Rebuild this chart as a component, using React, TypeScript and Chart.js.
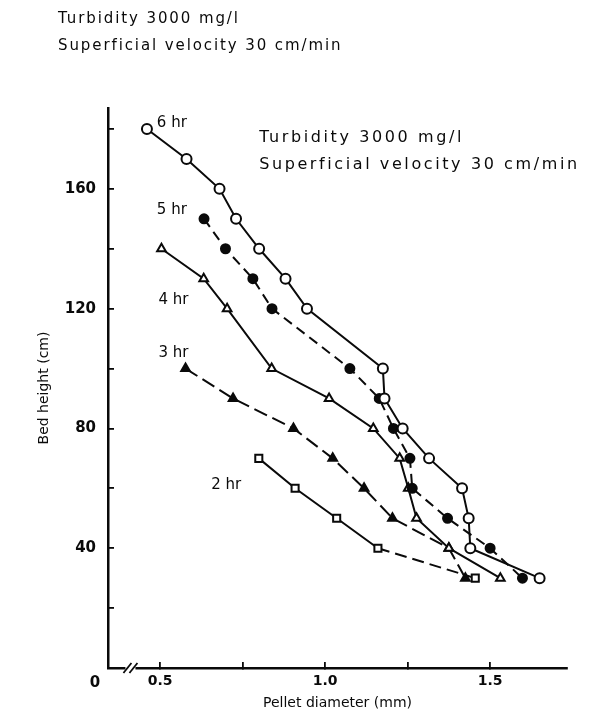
import React, { useEffect, useRef } from 'react';
import { Chart, registerables } from 'chart.js';

Chart.register(...registerables);

// ---- data (pellet diameter in mm, bed height in cm) ----
const seriesNames = ['6 hr', '5 hr', '4 hr', '3 hr', '2 hr'];

const diam6hr = [0.46, 0.58, 0.68, 0.73, 0.80, 0.88, 0.945, 1.175, 1.18, 1.235, 1.315, 1.415, 1.435, 1.44, 1.65];
const height6hr = [180, 170, 160, 150, 140, 130, 120, 100, 90, 80, 70, 60, 50, 40, 30];

const diam5hr = [0.633, 0.698, 0.781, 0.839, 1.075, 1.164, 1.207, 1.257, 1.264, 1.371, 1.5, 1.598];
const height5hr = [150, 140, 130, 120, 100, 90, 80, 70, 60, 50, 40, 30];

const diam4hr = [0.504, 0.632, 0.703, 0.838, 1.012, 1.146, 1.226, 1.252, 1.277, 1.375, 1.531];
const height4hr = [140, 130, 120, 100, 90, 80, 70, 60, 50, 40, 30];

const diam3hr = [0.577, 0.721, 0.904, 1.023, 1.118, 1.204, 1.375, 1.425];
const height3hr = [100, 90, 80, 70, 60, 50, 40, 30];

const diam2hr = [0.799, 0.909, 1.035, 1.16, 1.455];
const height2hr = [70, 60, 50, 40, 30];

const xTickValues = [0.5, 0.75, 1.0, 1.25, 1.5];
const yTickValues = [20, 40, 60, 80, 100, 120, 140, 160, 180];

// series label anchors (data coordinates)
const labelDiam = [0.49, 0.49, 0.495, 0.495, 0.655];
const labelHeight = [182, 153, 123, 105, 61];

const noteLines = ['Turbidity 3000 mg/l', 'Superficial velocity 30 cm/min'];
const noteDiam = 0.80;
const noteHeights = [177, 168];
const headerLines = ['Turbidity 3000 mg/l', 'Superficial velocity 30 cm/min'];

const X_MIN = 0.342;
const X_MAX = 1.733;
const Y_MIN = 0;
const Y_MAX = 187;
const BREAK_AT = 0.41;

const FONT = '"DejaVu Sans", "Liberation Sans", sans-serif';
const INK = '#0a0a0a';

const toPoints = (xs: number[], ys: number[]) => xs.map((v, i) => ({ x: v, y: ys[i] }));

const annotationPlugin = {
  id: 'annotations',
  afterDraw(chart: any) {
    const { ctx, chartArea } = chart;
    const x = chart.scales.x;
    const y = chart.scales.y;
    ctx.save();
    ctx.fillStyle = INK;
    ctx.textBaseline = 'middle';
    ctx.textAlign = 'left';
    ctx.font = `15px ${FONT}`;
    seriesNames.forEach((n, i) => {
      ctx.fillText(n, x.getPixelForValue(labelDiam[i]), y.getPixelForValue(labelHeight[i]));
    });
    ctx.font = `16px ${FONT}`;
    (ctx as any).letterSpacing = '2.6px';
    noteLines.forEach((t, i) => {
      ctx.fillText(t, x.getPixelForValue(noteDiam), y.getPixelForValue(noteHeights[i]));
    });
    (ctx as any).letterSpacing = '0px';
    ctx.font = `bold 15px ${FONT}`;
    ctx.textAlign = 'center';
    ctx.fillText('0', chartArea.left - 13, chartArea.bottom + 15);
    // axis break
    const bx = x.getPixelForValue(BREAK_AT);
    ctx.fillStyle = '#fff';
    ctx.fillRect(bx - 5, chartArea.bottom - 3, 10, 6);
    ctx.strokeStyle = INK;
    ctx.lineWidth = 1.8;
    [-3, 3].forEach((o) => {
      ctx.beginPath();
      ctx.moveTo(bx + o - 4, chartArea.bottom + 5);
      ctx.lineTo(bx + o + 4, chartArea.bottom - 5);
      ctx.stroke();
    });
    ctx.restore();
  },
};

export default function App() {
  const canvasRef = useRef<HTMLCanvasElement | null>(null);

  useEffect(() => {
    const canvas = canvasRef.current;
    if (!canvas) return;

    const common = {
      borderColor: INK,
      pointBorderColor: INK,
      borderWidth: 2,
      pointBorderWidth: 2,
      tension: 0,
      fill: false,
    };

    const chart = new Chart(canvas, {
      type: 'line',
      data: {
        datasets: [
          {
            ...common,
            label: seriesNames[0],
            data: toPoints(diam6hr, height6hr),
            pointStyle: 'circle',
            pointRadius: 5,
            pointBackgroundColor: '#fff',
          },
          {
            ...common,
            label: seriesNames[1],
            data: toPoints(diam5hr, height5hr),
            pointStyle: 'circle',
            pointRadius: 4.5,
            pointBackgroundColor: INK,
            borderDash: [10, 6],
          },
          {
            ...common,
            label: seriesNames[2],
            data: toPoints(diam4hr, height4hr),
            pointStyle: 'triangle',
            pointRadius: 5,
            pointBackgroundColor: '#fff',
          },
          {
            ...common,
            label: seriesNames[3],
            data: toPoints(diam3hr, height3hr),
            pointStyle: 'triangle',
            pointRadius: 5,
            pointBackgroundColor: INK,
            borderDash: [14, 6],
          },
          {
            ...common,
            label: seriesNames[4],
            data: toPoints(diam2hr, height2hr),
            pointStyle: 'rect',
            pointRadius: 5,
            pointBackgroundColor: '#fff',
            segment: {
              borderDash: (c: any) => (c.p1DataIndex === diam2hr.length - 1 ? [12, 6] : undefined),
            },
          },
        ],
      },
      options: {
        animation: false,
        responsive: false,
        devicePixelRatio: 1,
        parsing: false as any,
        layout: { padding: { left: 30, right: 26, top: 108, bottom: 4 } },
        plugins: {
          legend: { display: false },
          tooltip: { enabled: false },
        },
        scales: {
          x: {
            type: 'linear',
            min: X_MIN,
            max: X_MAX,
            afterFit: (s: any) => { s.height = 48; },
            afterBuildTicks: (s: any) => { s.ticks = xTickValues.map((v) => ({ value: v })); },
            grid: { drawOnChartArea: false, drawTicks: true, tickLength: -6, color: INK, lineWidth: 1.8 },
            border: { color: INK, width: 2.5 },
            ticks: {
              color: INK,
              font: { family: FONT, size: 14, weight: 'bold' },
              padding: 11,
              maxRotation: 0,
              autoSkip: false,
              callback: (v: any) => (Math.abs(v * 2 - Math.round(v * 2)) < 1e-6 ? Number(v).toFixed(1) : ''),
            },
            title: {
              display: true,
              text: 'Pellet diameter (mm)',
              color: INK,
              font: { family: FONT, size: 14 },
              padding: { top: 0, bottom: 4 },
            },
          },
          y: {
            type: 'linear',
            min: Y_MIN,
            max: Y_MAX,
            afterFit: (s: any) => { s.width = 78; },
            afterBuildTicks: (s: any) => { s.ticks = yTickValues.map((v) => ({ value: v })); },
            grid: { drawOnChartArea: false, drawTicks: true, tickLength: -6, color: INK, lineWidth: 1.8 },
            border: { color: INK, width: 2.5 },
            ticks: {
              color: INK,
              font: { family: FONT, size: 15, weight: 'bold' },
              padding: 18,
              autoSkip: false,
              callback: (v: any) => (v % 40 === 0 ? String(v) : ''),
            },
            title: {
              display: true,
              text: 'Bed height (cm)',
              color: INK,
              font: { family: FONT, size: 14 },
              padding: { top: 6, bottom: 0 },
            },
          },
        },
      },
      plugins: [annotationPlugin],
    } as any);

    return () => chart.destroy();
  }, []);

  const headerStyle: React.CSSProperties = {
    position: 'absolute',
    left: 58,
    fontFamily: FONT,
    fontSize: 15,
    letterSpacing: '1.9px',
    color: INK,
    whiteSpace: 'nowrap',
    lineHeight: '18px',
  };

  return (
    <div style={{ position: 'absolute', left: 0, top: 0, width: 593, height: 720, background: '#fff' }}>
      <canvas ref={canvasRef} width={593} height={720} style={{ position: 'absolute', left: 0, top: 0, width: 593, height: 720 }} />
      <div style={{ ...headerStyle, top: 9 }}>{headerLines[0]}</div>
      <div style={{ ...headerStyle, top: 36 }}>{headerLines[1]}</div>
    </div>
  );
}
